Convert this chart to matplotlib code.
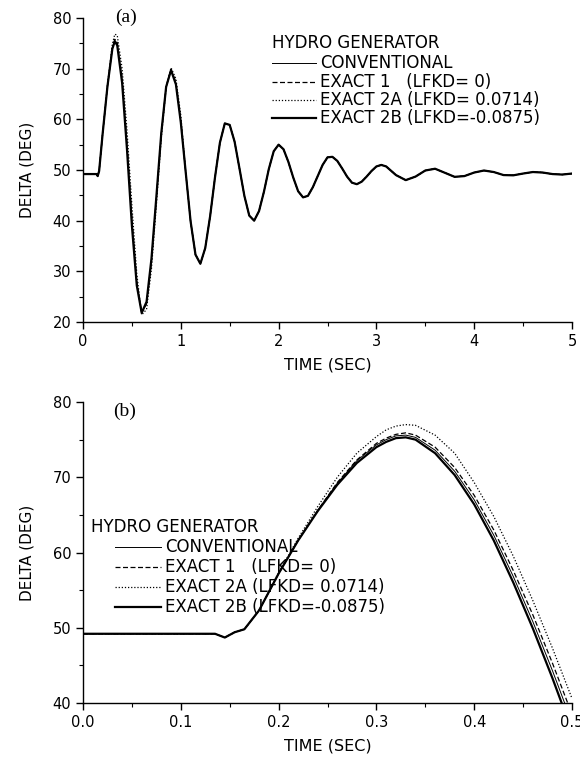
import matplotlib
matplotlib.use("Agg")
import matplotlib.pyplot as plt
from matplotlib.ticker import MultipleLocator, FormatStrFormatter
from matplotlib.lines import Line2D

# ---- panel (a): 0..5 s, first cycle differs per model, tail shared
t_a_head = [0, 0.14, 0.15, 0.165, 0.2, 0.25, 0.3, 0.325, 0.35, 0.4, 0.45,
            0.5, 0.55, 0.6, 0.65, 0.7, 0.75, 0.8, 0.85, 0.9, 0.95, 1.0]
conv_a_head = [49.2, 49.2, 48.8, 49.8, 57.0, 66.5, 74.0, 75.6, 74.9, 67.7, 54.6,
               39.7, 27.5, 21.8, 23.8, 32.2, 44.4, 57.0, 66.4, 69.8, 67.1, 59.6]
ex1_a_head = [49.2, 49.2, 48.8, 49.8, 57.0, 66.5, 74.1, 75.8, 75.2, 68.2, 55.3,
              40.5, 28.0, 21.9, 23.6, 32.0, 44.3, 57.0, 66.5, 69.9, 67.3, 59.8]
ex2a_a_head = [49.2, 49.2, 48.8, 49.8, 57.1, 66.8, 74.8, 76.8, 76.6, 70.0, 57.8,
               43.0, 29.5, 21.4, 22.5, 30.5, 43.0, 56.2, 66.2, 70.2, 68.0, 60.8]
ex2b_a_head = [49.2, 49.2, 48.8, 49.8, 57.0, 66.5, 73.9, 75.4, 74.6, 67.2, 54.0,
               39.0, 27.2, 21.8, 24.0, 32.5, 44.7, 57.2, 66.4, 69.7, 66.9, 59.4]

t_a_tail = [1.05, 1.1, 1.15, 1.2, 1.25, 1.3, 1.35, 1.4, 1.45, 1.5, 1.55, 1.6,
            1.65, 1.7, 1.75, 1.8, 1.85, 1.9, 1.95, 2.0, 2.05, 2.1, 2.15, 2.2,
            2.25, 2.3, 2.35, 2.4, 2.45, 2.5, 2.55, 2.6, 2.65, 2.7, 2.75, 2.8,
            2.85, 2.9, 2.95, 3.0, 3.05, 3.1, 3.2, 3.3, 3.4, 3.5, 3.6, 3.7, 3.8,
            3.9, 4.0, 4.1, 4.2, 4.3, 4.4, 4.5, 4.6, 4.7, 4.8, 4.9, 5.0]
delta_a_tail = [49.6, 39.9, 33.3, 31.5, 34.6, 40.9, 48.6, 55.4, 59.2, 58.9, 55.6, 50.3,
                44.9, 41.0, 40.0, 41.9, 45.7, 50.2, 53.7, 55.0, 54.1, 51.6, 48.5, 45.8,
                44.6, 44.9, 46.6, 48.8, 51.0, 52.5, 52.6, 51.8, 50.3, 48.7, 47.5, 47.2,
                47.7, 48.7, 49.8, 50.7, 51.0, 50.7, 49.0, 48.0, 48.7, 49.9, 50.25, 49.45, 48.65,
                48.8, 49.5, 49.9, 49.6, 49.0, 48.95, 49.3, 49.6, 49.5, 49.2, 49.1, 49.3]

# ---- panel (b): 0..0.5 s zoom
t_b = [0, 0.135, 0.145, 0.155, 0.165, 0.18, 0.2, 0.22, 0.24, 0.26, 0.28, 0.3,
       0.31, 0.32, 0.33, 0.34, 0.36, 0.38, 0.4, 0.42, 0.44, 0.46, 0.48, 0.5]
conv_b = [49.2, 49.2, 48.7, 49.4, 49.8, 52.3, 57.2, 61.6, 65.6, 69.2, 72.2, 74.3,
          75.0, 75.5, 75.6, 75.3, 73.6, 70.8, 67.0, 62.3, 56.8, 50.8, 44.3, 37.4]
ex1_b = [49.2, 49.2, 48.7, 49.4, 49.8, 52.3, 57.2, 61.6, 65.6, 69.3, 72.3, 74.5,
         75.2, 75.7, 75.9, 75.6, 74.0, 71.3, 67.6, 63.0, 57.6, 51.7, 45.3, 38.5]
ex2a_b = [49.2, 49.2, 48.7, 49.4, 49.8, 52.3, 57.3, 61.9, 66.1, 70.0, 73.2, 75.4,
          76.3, 76.8, 77.0, 76.9, 75.6, 73.2, 69.3, 64.8, 59.5, 53.6, 47.3, 40.6]
ex2b_b = [49.2, 49.2, 48.7, 49.4, 49.8, 52.3, 57.2, 61.6, 65.5, 69.0, 71.9, 74.0,
          74.7, 75.2, 75.3, 75.0, 73.2, 70.3, 66.4, 61.6, 56.0, 49.9, 43.3, 36.3]

legend_title = "HYDRO GENERATOR"
labels = ["CONVENTIONAL", "EXACT 1   (LFKD= 0)",
          "EXACT 2A (LFKD= 0.0714)", "EXACT 2B (LFKD=-0.0875)"]
styles = [dict(ls="-", lw=0.7), dict(ls=(0, (4, 2)), lw=0.9),
          dict(ls=(0, (1, 1.5)), lw=0.9), dict(ls="-", lw=1.6)]

plt.rcParams["font.family"] = ["DejaVu Sans"]
W, H = 580, 758
fig = plt.figure(figsize=(W / 100, H / 100), dpi=100)
ax1 = fig.add_axes([83 / W, 1 - 322 / H, 489 / W, 304 / H])
ax2 = fig.add_axes([83 / W, 1 - 703 / H, 489 / W, 301 / H])

series_a = [conv_a_head, ex1_a_head, ex2a_a_head, ex2b_a_head]
for vals, st in zip(series_a, styles):
    ax1.plot(t_a_head + t_a_tail, vals + delta_a_tail, color="black", **st)

series_b = [conv_b, ex1_b, ex2a_b, ex2b_b]
for vals, st in zip(series_b, styles):
    ax2.plot(t_b, vals, color="black", **st)

ax1.set_xlim(0, 5)
ax1.set_ylim(20, 80)
ax1.xaxis.set_major_locator(MultipleLocator(1))
ax1.xaxis.set_minor_locator(MultipleLocator(0.5))
ax1.yaxis.set_major_locator(MultipleLocator(10))
ax1.yaxis.set_minor_locator(MultipleLocator(5))

ax2.set_xlim(0, 0.5)
ax2.set_ylim(40, 80)
ax2.xaxis.set_major_locator(MultipleLocator(0.1))
ax2.xaxis.set_minor_locator(MultipleLocator(0.05))
ax2.xaxis.set_major_formatter(FormatStrFormatter("%.1f"))
ax2.yaxis.set_major_locator(MultipleLocator(10))
ax2.yaxis.set_minor_locator(MultipleLocator(5))

for ax in (ax1, ax2):
    ax.spines["top"].set_visible(False)
    ax.spines["right"].set_visible(False)
    ax.spines["left"].set_linewidth(1.0)
    ax.spines["bottom"].set_linewidth(1.0)
    ax.tick_params(which="major", direction="out", length=5, width=1.0, labelsize=10.5)
    ax.tick_params(which="minor", direction="out", length=3, width=0.8)
    ax.set_xlabel("TIME (SEC)", fontsize=11.5, labelpad=6)
    ax.set_ylabel("DELTA (DEG)", fontsize=11, labelpad=13)


def px(x, y):
    return x / W, 1 - y / H


fig.text(*px(115, 17), "(a)", family="Liberation Serif", fontsize=14, va="center")
fig.text(*px(113, 411), "(b)", family="Liberation Serif", fontsize=14, va="center")


def draw_legend(title_xy, x_line, x_text, rows_y):
    fig.text(*px(*title_xy), legend_title, fontsize=12, va="center", ha="left")
    for label, st, y in zip(labels, styles, rows_y):
        x0, yy = px(x_line, y)
        x1, _ = px(x_text - 4, y)
        fig.add_artist(Line2D([x0, x1], [yy, yy], transform=fig.transFigure,
                              color="black", **st))
        fig.text(*px(x_text, y), label, fontsize=12, va="center", ha="left")


draw_legend((272, 43), 272, 320, [63, 82, 100, 118])
draw_legend((91, 527), 115, 165, [547, 567, 587, 607])

fig.savefig("out.png", dpi=100)
